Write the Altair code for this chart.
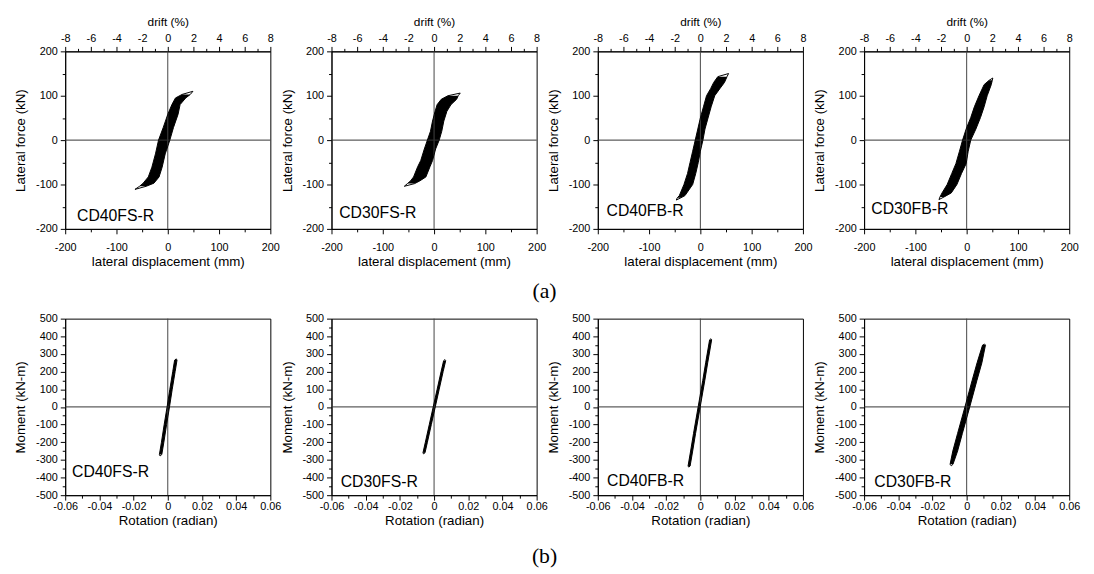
import altair as alt
import pandas as pd

FONT = "Liberation Sans"

# ---------------- (a) lateral force (kN) vs lateral displacement (mm) ----------------
a_names = ["CD40FS-R", "CD30FS-R", "CD40FB-R", "CD30FB-R"]

a1_force = [-104, -97, -83, -61, -31, 0, 28, 58, 80, 95, 103]
a1_left = [-55, -48, -38, -31, -24, -18, -9, 0, 8, 15, 28]
a1_right = [-42, -27, -17, -11, -5, 4, 11, 20, 24, 35, 44]
a1_tip_disp = [-64, 49]
a1_tip_force = [-111, 110]

a2_force = [-98, -92, -83, -60, -46, -20, 0, 20, 43, 65, 80, 92, 100]
a2_left = [-52, -46, -40, -32, -26, -19, -13, -7, -3, 2, 6, 14, 27]
a2_right = [-38, -28, -16, -8, -3, 3, 10, 15, 19, 25, 33, 44, 47]
a2_tip_disp = [-58, 51]
a2_tip_force = [-104, 106]

a3_force = [-130, -125, -100, -75, -50, -25, 0, 25, 50, 75, 100, 116, 130, 143]
a3_left = [-45, -41, -32, -25, -20, -15, -10, -5, 0, 6, 12, 20, 26, 34]
a3_right = [-38, -30, -15, -9, -4, 0, 5, 9, 15, 21, 28, 38, 47, 52]
a3_tip_disp = [-47, 55]
a3_tip_force = [-135, 150]

a4_force = [-128, -119, -100, -75, -53, -25, 0, 25, 51, 75, 100, 125, 135]
a4_left = [-52, -48, -38, -29, -21, -14, -8, -1, 8, 15, 24, 34, 44]
a4_right = [-44, -30, -19, -10, -1, 3, 8, 18, 27, 34, 40, 48, 50]
a4_tip_disp = [-54, 51]
a4_tip_force = [-134, 140]

a_label_disp = [-177, -185, -183, -186]
a_label_force = [-171, -164, -160, -156]

# ---------------- (b) moment (kN-m) vs rotation (radian) ----------------
b_names = ["CD40FS-R", "CD30FS-R", "CD40FB-R", "CD30FB-R"]

b1_moment = [-270, -200, -100, 0, 100, 200, 265]
b1_left = [-0.0049, -0.0037, -0.0021, -0.0004, 0.0012, 0.0029, 0.0040]
b1_right = [-0.0035, -0.0023, -0.0007, 0.0010, 0.0026, 0.0043, 0.0054]
b1_tip_rot = [-0.0045, 0.0050]
b1_tip_moment = [-278, 272]

b2_moment = [-260, -200, -100, 0, 100, 200, 262]
b2_left = [-0.0065, -0.0051, -0.0028, -0.0005, 0.0018, 0.0041, 0.0056]
b2_right = [-0.0053, -0.0039, -0.0016, 0.0007, 0.0030, 0.0053, 0.0068]
b2_tip_rot = [-0.0062, 0.0064]
b2_tip_moment = [-266, 268]

b3_moment = [-335, -250, -150, 0, 150, 250, 380]
b3_left = [-0.0072, -0.0057, -0.0040, -0.0013, 0.0014, 0.0031, 0.0054]
b3_right = [-0.0060, -0.0045, -0.0028, -0.0001, 0.0026, 0.0043, 0.0066]
b3_tip_rot = [-0.0068, 0.0062]
b3_tip_moment = [-341, 386]

b4_moment = [-325, -250, -150, 0, 150, 250, 350]
b4_left = [-0.0097, -0.0081, -0.0053, -0.0010, 0.0032, 0.0061, 0.0093]
b4_right = [-0.0080, -0.0053, -0.0025, 0.0018, 0.0060, 0.0089, 0.0110]
b4_tip_rot = [-0.0090, 0.0105]
b4_tip_moment = [-334, 356]

b_label_rot = [-0.056, -0.0546, -0.0546, -0.054]
b_label_moment = [-371, -427, -419, -428]

disp_ticks = [-200, -150, -100, -50, 0, 50, 100, 150, 200]
drift_ticks_mm = [-200, -175, -150, -125, -100, -75, -50, -25, 0, 25, 50, 75, 100, 125, 150, 175, 200]
force_ticks = [-200, -150, -100, -50, 0, 50, 100, 150, 200]
rot_ticks = [-0.06, -0.05, -0.04, -0.03, -0.02, -0.01, 0.0, 0.01, 0.02, 0.03, 0.04, 0.05, 0.06]
moment_ticks = [-500, -450, -400, -350, -300, -250, -200, -150, -100, -50, 0,
                50, 100, 150, 200, 250, 300, 350, 400, 450, 500]

PANEL_W = 208


def axis(orient, title, values, test, label, title_pad, label_pad=3, title_size=13.5):
    return alt.Axis(
        orient=orient, title=title, values=values,
        labelExpr=f"({test}) ? ({label}) : ''",
        tickSize={"condition": {"test": test, "value": 5}, "value": 3},
        labelFont=FONT, labelFontSize=11, labelColor="black",
        titleFont=FONT, titleFontSize=title_size,
        titleFontWeight="normal", titleColor="black",
        titlePadding=title_pad, labelPadding=label_pad,
        domainColor="black", tickColor="black", grid=False,
        labelFlush=False, labelOverlap=False,
    )


INT100 = "datum.value % 100 === 0"
INT_LABEL = "'' + datum.value"
ROT_TEST = "abs(round(datum.value * 100)) % 2 === 0"
ROT_LABEL = ("abs(datum.value) < 1e-9 ? '0' : ((datum.value < 0 ? '-' : '') + "
             "format(abs(datum.value), '.2f'))")


def panel(force, left, right, tipx, tipf, name, lx, ly, kind, height, extra=None):
    band = pd.DataFrame({"f": force, "l": left, "r": right})
    ox = [tipx[0]] + right + [tipx[1]] + left[::-1] + [tipx[0]]
    of = [tipf[0]] + force + [tipf[1]] + force[::-1] + [tipf[0]]
    outline = pd.DataFrame({"x": ox, "f": of, "i": list(range(len(ox)))})

    if kind == "a":
        xs = alt.Scale(domain=[-200, 200], nice=False, zero=False)
        ys = alt.Scale(domain=[-200, 200], nice=False, zero=False)
        xb = axis("bottom", "lateral displacement (mm)", disp_ticks, INT100, INT_LABEL, 2, 8)
        xt = axis("top", "drift (%)", drift_ticks_mm, "datum.value % 50 === 0",
                  "'' + (datum.value / 25)", 4, 3, 12)
        ya = axis("left", "Lateral force (kN)", force_ticks, INT100, INT_LABEL, 8)
    else:
        xs = alt.Scale(domain=[-0.06, 0.06], nice=False, zero=False)
        ys = alt.Scale(domain=[-500, 500], nice=False, zero=False)
        xb = axis("bottom", "Rotation (radian)", rot_ticks, ROT_TEST, ROT_LABEL, 2, 1)
        xt = None
        ya = axis("left", "Moment (kN-m)", moment_ticks, INT100, INT_LABEL, 8)

    fill = alt.Chart(band).mark_area(orient="horizontal", color="black").encode(
        y=alt.Y("f:Q", scale=ys, axis=ya),
        x=alt.X("l:Q", scale=xs, axis=xb),
        x2="r:Q",
    )
    line = alt.Chart(outline).mark_line(color="black", strokeWidth=1).encode(
        x=alt.X("x:Q", scale=xs, axis=None),
        y=alt.Y("f:Q", scale=ys, axis=ya),
        order="i:Q",
    )
    zero = pd.DataFrame({"z": [0]})
    vrule = alt.Chart(zero).mark_rule(color="#444", strokeWidth=1).encode(
        x=alt.X("z:Q", scale=xs, axis=xt)
    )
    hrule = alt.Chart(zero).mark_rule(color="#333", strokeWidth=1).encode(
        y=alt.Y("z:Q", scale=ys, axis=ya)
    )
    lab = alt.Chart(pd.DataFrame({"t": [name], "x": [lx], "y": [ly]})).mark_text(
        align="left", baseline="middle", font=FONT, fontSize=16, color="black"
    ).encode(
        x=alt.X("x:Q", scale=xs, axis=None),
        y=alt.Y("y:Q", scale=ys, axis=ya),
        text="t:N",
    )
    layers = [fill, vrule, hrule, line, lab]
    if extra is not None:
        layers.append(extra)
    return alt.layer(*layers).resolve_axis(x="independent").properties(
        width=PANEL_W, height=height
    )


def caption(txt, px, py):
    return alt.Chart(pd.DataFrame({"t": [txt]})).mark_text(
        font="Liberation Serif", fontSize=22, align="center", baseline="middle", color="black"
    ).encode(text="t:N", x=alt.value(px), y=alt.value(py))


panels = [
    panel(a1_force, a1_left, a1_right, a1_tip_disp, a1_tip_force, a_names[0], a_label_disp[0], a_label_force[0], "a", 180),
    panel(a2_force, a2_left, a2_right, a2_tip_disp, a2_tip_force, a_names[1], a_label_disp[1], a_label_force[1], "a", 180,
          extra=caption("(a)", 216, 243)),
    panel(a3_force, a3_left, a3_right, a3_tip_disp, a3_tip_force, a_names[2], a_label_disp[2], a_label_force[2], "a", 180),
    panel(a4_force, a4_left, a4_right, a4_tip_disp, a4_tip_force, a_names[3], a_label_disp[3], a_label_force[3], "a", 180),
    panel(b1_moment, b1_left, b1_right, b1_tip_rot, b1_tip_moment, b_names[0], b_label_rot[0], b_label_moment[0], "b", 179),
    panel(b2_moment, b2_left, b2_right, b2_tip_rot, b2_tip_moment, b_names[1], b_label_rot[1], b_label_moment[1], "b", 179,
          extra=caption("(b)", 216, 241)),
    panel(b3_moment, b3_left, b3_right, b3_tip_rot, b3_tip_moment, b_names[2], b_label_rot[2], b_label_moment[2], "b", 179),
    panel(b4_moment, b4_left, b4_right, b4_tip_rot, b4_tip_moment, b_names[3], b_label_rot[3], b_label_moment[3], "b", 179),
]

chart = alt.concat(
    *panels, columns=4, spacing={"row": 91, "column": 62}, bounds="flush"
).properties(
    padding={"left": 5, "top": 3, "right": 5, "bottom": 5}
).configure_view(stroke="black", strokeWidth=1)

chart.save("out.html", embed_options={"renderer": "svg", "actions": False})
